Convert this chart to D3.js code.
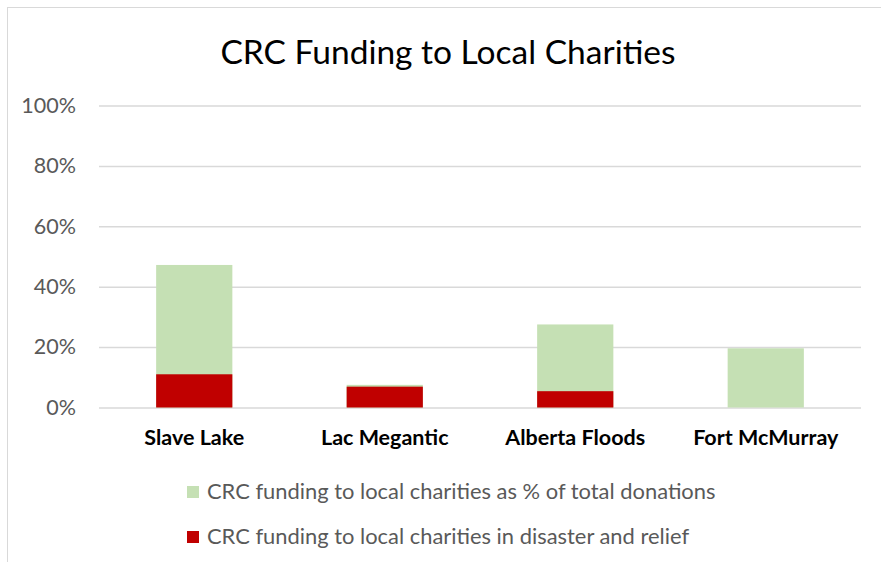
<!DOCTYPE html>
<html><head><meta charset="utf-8">
<script src="https://cdn.jsdelivr.net/npm/d3@7"></script>
<style>body{margin:0;background:#fff;} svg{display:block;font-family:Lato,"Open Sans",sans-serif;}</style>
</head><body>
<svg id="c" width="881" height="562"></svg>
<script>
const categories = ["Slave Lake","Lac Megantic","Alberta Floods","Fort McMurray"];
const pctTotal = [0.472, 0.075, 0.275, 0.196];
const disasterRelief = [0.110, 0.069, 0.054, 0];
const yTicks = [0, 0.2, 0.4, 0.6, 0.8, 1.0];
const seriesNames = ["CRC funding to local charities as % of total donations","CRC funding to local charities in disaster and relief"];
const colors = ["#c5e0b4", "#c00000"];

const svg = d3.select("#c");
svg.append("rect").attr("x",7.5).attr("y",7.5).attr("width",900).attr("height",600)
  .attr("fill","#fff").attr("stroke","#d9d9d9").attr("stroke-width",1);

const x = d3.scaleBand().domain(categories).range([99, 861]).paddingInner(0.6).paddingOuter(0.3);
const y = d3.scaleLinear().domain([0,1]).range([407.5, 105.5]);

svg.append("text").attr("x",448).attr("y",64).attr("text-anchor","middle")
  .attr("font-size",33.5).attr("fill","#000").text("CRC Funding to Local Charities");

const ya = svg.append("g").attr("transform","translate(99,0)")
  .call(d3.axisLeft(y).tickValues(yTicks).tickFormat(d3.format(".0%")).tickSize(-762).tickPadding(23));
ya.select(".domain").remove();
ya.selectAll("line").attr("stroke","#d9d9d9").attr("stroke-width",1.5);
ya.selectAll("text").attr("font-size",21.5).attr("fill","#595959").attr("font-family","Lato,sans-serif");

svg.append("g").selectAll("rect").data(categories).join("rect")
  .attr("x",d=>x(d)).attr("width",x.bandwidth())
  .attr("y",(d,i)=>y(pctTotal[i])).attr("height",(d,i)=>y(0)-y(pctTotal[i]))
  .attr("fill",colors[0]);
svg.append("g").selectAll("rect").data(categories).join("rect")
  .attr("x",d=>x(d)).attr("width",x.bandwidth())
  .attr("y",(d,i)=>y(disasterRelief[i])).attr("height",(d,i)=>y(0)-y(disasterRelief[i]))
  .attr("fill",colors[1]);

const xa = svg.append("g").attr("transform","translate(0,407.5)")
  .call(d3.axisBottom(x).tickSize(0).tickPadding(22));
xa.select(".domain").remove();
xa.selectAll("text").attr("font-size",21.5).attr("font-weight","bold").attr("fill","#000").attr("font-family","Lato,sans-serif");

const leg = svg.append("g").selectAll("g").data(seriesNames).join("g")
  .attr("transform",(d,i)=>`translate(187,${486 + i*45})`);
leg.append("rect").attr("width",12).attr("height",12).attr("fill",(d,i)=>colors[i]);
leg.append("text").attr("x",20).attr("y",13).attr("font-size",21.9).attr("fill","#595959").text(d=>d);
</script>
</body></html>
